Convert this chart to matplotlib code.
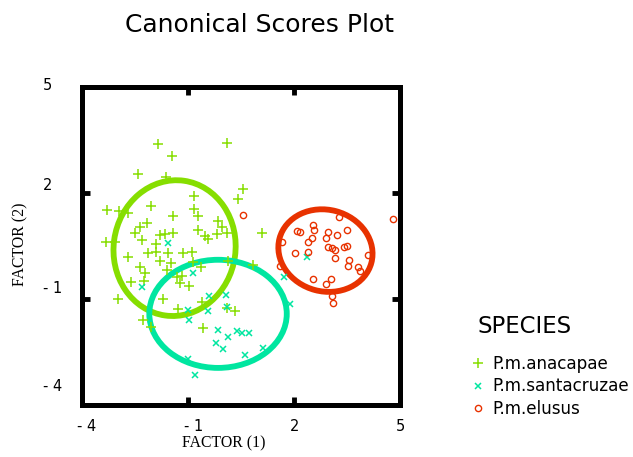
import numpy as np
import matplotlib
matplotlib.use("Agg")
import matplotlib.pyplot as plt
from matplotlib.patches import Ellipse
from matplotlib.lines import Line2D
from matplotlib.transforms import ScaledTranslation

# ---------------- data ----------------
species = ["P.m.anacapae", "P.m.santacruzae", "P.m.elusus"]

anacapae_x = [-1.86, 0.11, -1.46, -2.42, -1.62, 0.55, 0.42, -0.83, -2.05, -0.84,
              -0.71, -1.42, -3.29, -2.95, -2.69, -0.16, -2.17, -3.32, -3.07, -2.36,
              -2.50, -2.31, -1.79, -1.65, -1.43, -1.91, -2.12, -1.91, -2.69, -1.57,
              -1.79, -1.48, -2.36, -2.22, -2.24, -2.61, -1.60, -1.13, -0.90, -0.85,
              -0.63, -1.32, -1.16, -1.23, -0.97, -1.72, -2.97, -0.61, -1.27, -0.71,
              -0.52, -0.05, -0.19, 0.10, 0.14, 0.10, 0.33, 1.10, 0.85, -0.57,
              -2.27, -2.06, -0.43]
anacapae_y = [3.38, 3.41, 3.05, 2.54, 2.46, 2.11, 1.82, 1.92, 1.64, 1.55,
              1.36, 1.36, 1.53, 1.50, 1.44, 1.22, 1.14, 0.62, 0.62, 1.03,
              0.88, 0.67, 0.81, 0.84, 0.88, 0.56, 0.29, 0.34, 0.18, 0.29,
              0.08, 0.03, -0.09, -0.27, -0.48, -0.51, -0.18, 0.29, 0.34, 0.06,
              -0.09, -0.37, -0.35, -0.56, -0.63, -1.01, -1.01, -1.08, -1.29, 0.95,
              0.78, 1.03, 0.84, 0.86, 0.08, -1.26, -1.33, 0.88, -0.04, -1.83,
              -1.59, -1.80, 0.69]

santacruzae_x = [-1.57, -0.85, -2.31, -0.40, 0.08, -0.42, -0.99, -0.96, -0.14, 0.38,
                 0.53, 0.73, 0.14, -0.21, -0.02, 0.60, 1.11, -0.99, -0.80, 1.89,
                 1.71, 2.37, 0.10]
santacruzae_y = [0.58, -0.27, -0.66, -0.92, -0.89, -1.35, -1.30, -1.59, -1.87, -1.90,
                 -1.95, -1.95, -2.07, -2.24, -2.41, -2.58, -2.40, -2.69, -3.14, -1.15,
                 -0.37, 0.20, -1.24]

elusus_x = [4.81, 0.55, 3.27, 2.55, 2.08, 2.17, 2.57, 2.97, 3.49, 3.21,
            2.50, 2.90, 1.67, 2.40, 2.97, 3.08, 3.16, 3.49, 3.42, 2.03,
            2.40, 3.16, 4.09, 3.56, 3.52, 3.80, 3.87, 1.60, 2.55, 3.05,
            2.91, 3.07, 3.11]
elusus_y = [1.26, 1.38, 1.31, 1.09, 0.92, 0.90, 0.95, 0.89, 0.95, 0.81,
            0.74, 0.72, 0.61, 0.61, 0.47, 0.44, 0.40, 0.51, 0.48, 0.29,
            0.33, 0.17, 0.25, 0.10, -0.07, -0.09, -0.21, -0.06, -0.43, -0.43,
            -0.58, -0.91, -1.12]

# confidence ellipses: centre x, centre y, width, height, angle
ell_cx = [-1.38, -0.15, 2.89]
ell_cy = [0.44, -1.42, 0.37]
ell_w = [3.45, 3.89, 2.69]
ell_h = [3.85, 3.06, 2.31]
ell_angle = [-8, 0, -15]

xticks = [-4, -1, 2, 5]
xtick_labels = ["- 4", "- 1", "2", "5"]
yticks = [-4, -1, 2, 5]
ytick_labels = ["- 4", "- 1", "2", "5"]

# ---------------- style ----------------
colors = ["#86DE00", "#00E6A0", "#E83200"]
markers = ["+", "x", "o"]

fig = plt.figure(figsize=(6.33, 4.57), dpi=100)
ax = fig.add_axes([82 / 633, 1 - 405 / 457, 318 / 633, 318 / 457])

series = [(anacapae_x, anacapae_y), (santacruzae_x, santacruzae_y), (elusus_x, elusus_y)]
msizes = [7, 5, 4.5]
mews = [1.1, 1.1, 1.0]
for (xs, ys), c, m, ms, mw in zip(series, colors, markers, msizes, mews):
    if m == "o":
        ax.plot(xs, ys, linestyle="none", marker=m, ms=ms, mec=c, mfc="none", mew=mw, zorder=3)
    else:
        ax.plot(xs, ys, linestyle="none", marker=m, ms=ms, color=c, mew=mw, zorder=3)

for cx, cy, w, h, a, c in zip(ell_cx, ell_cy, ell_w, ell_h, ell_angle, colors):
    ax.add_patch(Ellipse((cx, cy), w, h, angle=a, fill=False, edgecolor=c, lw=4.2, zorder=2))

ax.set_xlim(-4, 5)
ax.set_ylim(-4, 5)
for s in ax.spines.values():
    s.set_linewidth(3.6)

ax.set_xticks(xticks, labels=xtick_labels)
ax.set_yticks(yticks, labels=ytick_labels)
ax.tick_params(axis="both", direction="in", length=6, width=3.5, top=True, right=True,
               labelsize=10.5, colors="black")
ax.tick_params(axis="x", pad=10)
ax.tick_params(axis="y", pad=28)
for lab in ax.get_yticklabels():
    lab.set_horizontalalignment("left")
# old-style label placement offsets (pixels, upward)
y_off = [20, 12, 9, 3]
for lab, off in zip(ax.get_yticklabels(), y_off):
    lab.set_transform(lab.get_transform() + ScaledTranslation(0, off / 100, fig.dpi_scale_trans))
x_off = [4.5, 5.5, 1, 0]
for lab, off in zip(ax.get_xticklabels(), x_off):
    lab.set_transform(lab.get_transform() + ScaledTranslation(off / 100, 0, fig.dpi_scale_trans))

serif = ["Liberation Serif", "DejaVu Serif"]
fig.text(223.5 / 633, 1 - 443 / 457, "FACTOR (1)", family=serif, fontsize=11.3,
         ha="center", va="center")
fig.text(20 / 633, 1 - 244 / 457, "FACTOR (2)", family=serif, fontsize=11.3,
         ha="center", va="center", rotation=90)
fig.text(259.5 / 633, 1 - 25 / 457, "Canonical Scores Plot", fontsize=18,
         ha="center", va="center")

handles = []
for c, m, ms, mw in zip(colors, markers, msizes, mews):
    if m == "o":
        handles.append(Line2D([], [], linestyle="none", marker=m, ms=ms, mec=c, mfc="none", mew=mw))
    else:
        handles.append(Line2D([], [], linestyle="none", marker=m, ms=ms, color=c, mew=mw))
leg = fig.legend(handles, species, title="SPECIES", loc="upper left",
                 bbox_to_anchor=(463 / 633, 1 - 307 / 457), frameon=False,
                 handlelength=0.8, handletextpad=0.45, labelspacing=0.26,
                 fontsize=12.1, title_fontsize=16.4, alignment="left", borderpad=0)
leg._legend_box.sep = 12
leg.get_title().set_position((6, 0))

fig.savefig("out.png", dpi=100)
